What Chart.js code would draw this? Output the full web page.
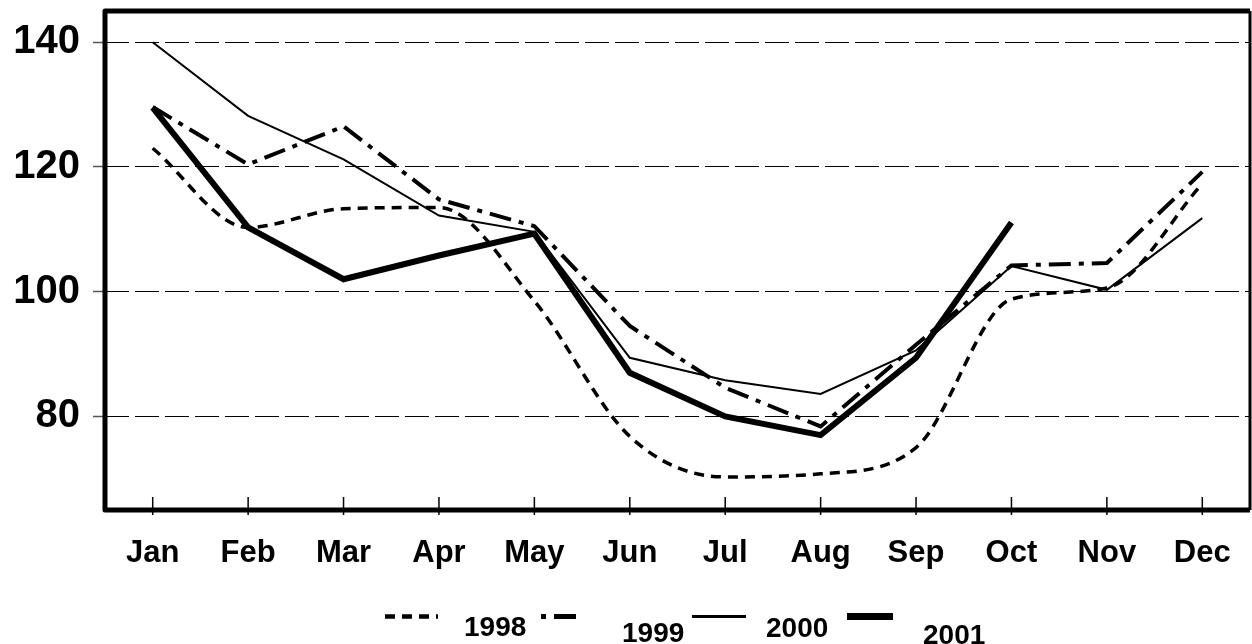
<!DOCTYPE html>
<html>
<head>
<meta charset="utf-8">
<script src="https://cdn.jsdelivr.net/npm/chart.js@4.4.0/dist/chart.umd.min.js"></script>
<style>
  html, body { margin: 0; padding: 0; background: #fff; }
  #wrap { width: 1252px; height: 644px; }
</style>
</head>
<body>
<div id="wrap"><canvas id="chart"></canvas></div>
<script>
const months = ['Jan', 'Feb', 'Mar', 'Apr', 'May', 'Jun', 'Jul', 'Aug', 'Sep', 'Oct', 'Nov', 'Dec'];
const yTicks = [80, 100, 120, 140];
const seriesNames = ['1998', '1999', '2000', '2001'];

const s1998 = [123, 110.3, 113.3, 113.5, 98.5, 76.8, 70.3, 70.8, 75, 98.8, 100.6, 117.3];
const s1999 = [129.6, 120.4, 126.5, 114.8, 110.5, 94.5, 84.6, 78.4, 91.5, 104.2, 104.6, 119.2];
const s2000 = [140, 128.2, 121.2, 112.2, 109.6, 89.4, 85.8, 83.6, 90.6, 104.1, 100.3, 111.8];
const s2001 = [129.5, 110.3, 102, 105.8, 109.3, 87, 80, 77, 89.4, 111.1, null, null];

const FONT = "'Liberation Sans', Arial, sans-serif";

// box round the plot and the small x tick marks that cross the bottom edge
const framePlugin = {
  id: 'frame',
  afterDraw(chart) {
    const { ctx, chartArea: a, scales } = chart;
    ctx.save();
    ctx.strokeStyle = '#000';
    ctx.lineWidth = 1.5;
    months.forEach((m, i) => {
      const x = scales.x.getPixelForValue(i);
      ctx.beginPath();
      ctx.moveTo(x, a.bottom - 13);
      ctx.lineTo(x, a.bottom + 5);
      ctx.stroke();
    });
    ctx.lineJoin = 'round';
    ctx.lineWidth = 5;
    ctx.beginPath();
    ctx.moveTo(a.right, a.top);
    ctx.lineTo(a.left, a.top);
    ctx.lineTo(a.left, a.bottom);
    ctx.lineTo(a.right, a.bottom);
    ctx.stroke();
    ctx.lineWidth = 3;
    ctx.beginPath();
    ctx.moveTo(a.right, a.top);
    ctx.lineTo(a.right, a.bottom);
    ctx.stroke();
    ctx.restore();
  }
};

// legend at the bottom, entries sit at slightly different heights like the original
const legendSpots = [
  { x: 385, len: 53, dashOffset: 0, tx: 464, ty: 636 },
  { x: 541, len: 42, dashOffset: 30, tx: 622, ty: 642 },
  { x: 692, len: 54, dashOffset: 0, tx: 766, ty: 637 },
  { x: 847, len: 46, dashOffset: 0, tx: 923, ty: 644 }
];
const legendPlugin = {
  id: 'bottomLegend',
  afterDraw(chart) {
    const ctx = chart.ctx;
    ctx.save();
    chart.data.datasets.forEach((ds, i) => {
      const p = legendSpots[i];
      ctx.strokeStyle = '#000';
      ctx.lineWidth = ds.borderWidth + 1;
      ctx.setLineDash(ds.borderDash || []);
      ctx.lineDashOffset = p.dashOffset;
      ctx.beginPath();
      ctx.moveTo(p.x, 616.5);
      ctx.lineTo(p.x + p.len, 616.5);
      ctx.stroke();
      ctx.setLineDash([]);
      ctx.fillStyle = '#000';
      ctx.font = 'bold 28px ' + FONT;
      ctx.textAlign = 'left';
      ctx.textBaseline = 'alphabetic';
      ctx.fillText(ds.label, p.tx, p.ty);
    });
    ctx.restore();
  }
};

new Chart(document.getElementById('chart'), {
  type: 'line',
  data: {
    labels: months,
    datasets: [
      { label: seriesNames[0], data: s1998, borderColor: '#000', borderWidth: 3.5, borderDash: [10, 7], cubicInterpolationMode: 'monotone' },
      { label: seriesNames[1], data: s1999, borderColor: '#000', borderWidth: 4, borderDash: [22, 8, 5, 8] },
      { label: seriesNames[2], data: s2000, borderColor: '#000', borderWidth: 2 },
      { label: seriesNames[3], data: s2001, borderColor: '#000', borderWidth: 6 }
    ]
  },
  options: {
    responsive: true,
    maintainAspectRatio: false,
    animation: false,
    layout: { padding: { top: 11, right: 2, left: 0, bottom: 0 } },
    elements: { point: { radius: 0 } },
    plugins: { legend: { display: false }, tooltip: { enabled: false } },
    scales: {
      x: {
        offset: true,
        grid: { display: false, drawTicks: false },
        border: { display: false },
        ticks: { color: '#000', padding: 25, font: { family: FONT, size: 31, weight: 'bold' } },
        afterFit(s) { s.height = 134; s.paddingLeft = 0; s.paddingRight = 0; }
      },
      y: {
        min: 65,
        max: 145,
        afterBuildTicks(s) { s.ticks = yTicks.map(v => ({ value: v })); },
        grid: { color: '#000', lineWidth: 1, tickLength: 12, tickColor: '#555', tickWidth: 1.5 },
        border: { display: false, dash: [24, 6] },
        ticks: { color: '#000', padding: 13, font: { family: FONT, size: 40, weight: 'bold' } },
        afterFit(s) { s.width = 105; s.paddingTop = 0; s.paddingBottom = 0; }
      }
    }
  },
  plugins: [framePlugin, legendPlugin]
});
</script>
</body>
</html>
